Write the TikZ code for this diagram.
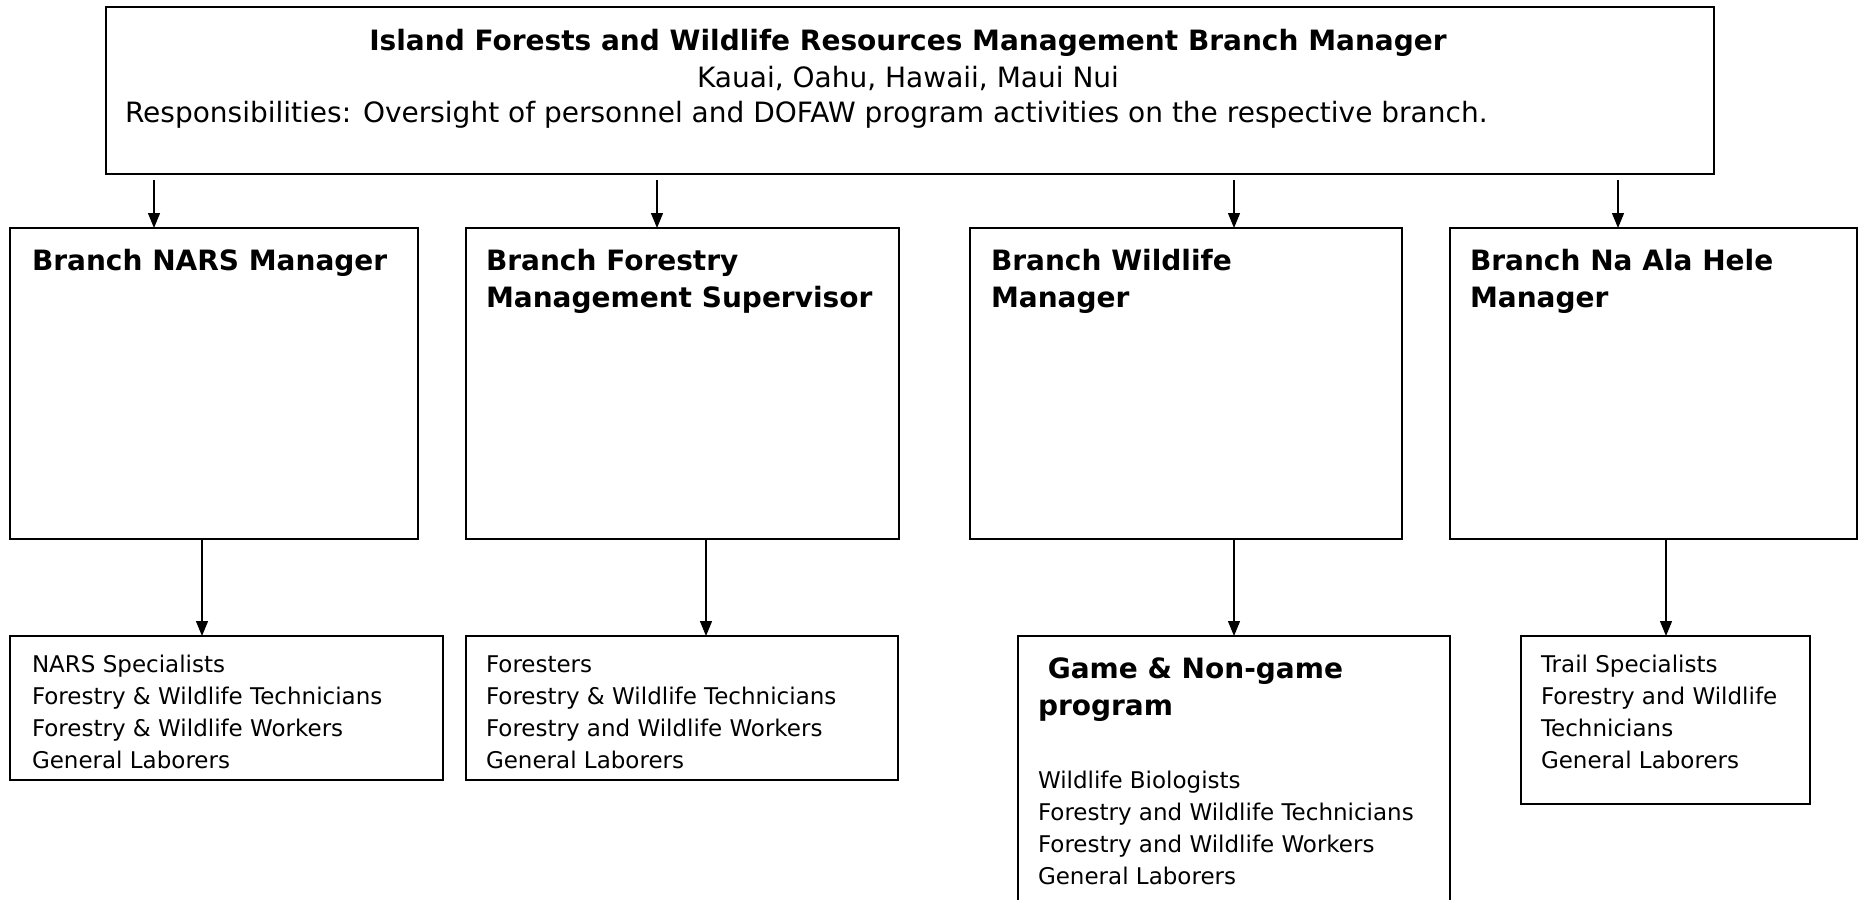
\documentclass[tikz,border=0pt]{standalone}
\usepackage{fontspec}
\setmainfont{DejaVu Sans}
\usetikzlibrary{arrows.meta}

% stack of lines whose baseline is the first line
\newcommand\linesbox[2]{\vtop{\baselineskip=#1\relax #2}}

\begin{document}
\begin{tikzpicture}[x=1pt, y=-1pt,
  box/.style={draw, line width=2pt, inner sep=0pt, outer sep=0pt, anchor=north west},
  bigtxt/.style={font=\fontsize{28}{37.5}\selectfont, inner sep=0pt, outer sep=0pt},
  bigbold/.style={font=\fontsize{28}{37.5}\selectfont\bfseries, inner sep=0pt, outer sep=0pt},
  smalltxt/.style={font=\fontsize{23}{31.8}\selectfont, inner sep=0pt, outer sep=0pt},
  arr/.style={-{Triangle[length=15pt,width=12pt]}, line width=1.3pt}]

\useasboundingbox (0,0) rectangle (1859,899);
\fill[white] (0,0) rectangle (1859,899);
\clip (0,0) rectangle (1859,899);

% boxes
\node[box, minimum width=1608pt, minimum height=167pt] (top)   at (106,7)   {};
\node[box, minimum width=408pt,  minimum height=311pt] (nars)  at (10,228)  {};
\node[box, minimum width=433pt,  minimum height=311pt] (fors)  at (466,228) {};
\node[box, minimum width=432pt,  minimum height=311pt] (wild)  at (970,228) {};
\node[box, minimum width=407pt,  minimum height=311pt] (nah)   at (1450,228) {};
\node[box, minimum width=433pt,  minimum height=144pt] (narsL) at (10,636)  {};
\node[box, minimum width=432pt,  minimum height=144pt] (forsL) at (466,636) {};
\node[box, minimum width=432pt,  minimum height=330pt] (game)  at (1018,636) {};
\node[box, minimum width=289pt,  minimum height=168pt] (trail) at (1521,636) {};

% top box text
\node[bigbold, anchor=base] (ttitle) at (908,50.7)
  {Island Forests and Wildlife Resources Management Branch Manager};
\node[bigtxt, anchor=base] (tisl) at (908,88) {Kauai, Oahu, Hawaii, Maui Nui};
\node[bigtxt, anchor=base west] (tresp) at (125,122.7)
  {Responsibilities: Oversight of personnel and DOFAW program activities on the respective branch.};

% branch headings
\node[bigbold, anchor=base west] (hnars) at (32,270) {Branch NARS Manager};
\node[bigbold, anchor=base west] (hfors) at (486,270)
  {\linesbox{37.5pt}{\hbox{Branch Forestry}\hbox{Management Supervisor}}};
\node[bigbold, anchor=base west] (hwild) at (991,270)
  {\linesbox{37.5pt}{\hbox{Branch Wildlife}\hbox{Manager}}};
\node[bigbold, anchor=base west] (hnah) at (1470,270)
  {\linesbox{37.5pt}{\hbox{Branch Na Ala Hele}\hbox{Manager}}};

% staff lists
\node[smalltxt, anchor=base west] (lnars) at (32,672.7)
  {\linesbox{31.8pt}{\hbox{NARS Specialists}\hbox{Forestry \& Wildlife Technicians}\hbox{Forestry \& Wildlife Workers}\hbox{General Laborers}}};
\node[smalltxt, anchor=base west] (lfors) at (486,672.7)
  {\linesbox{31.8pt}{\hbox{Foresters}\hbox{Forestry \& Wildlife Technicians}\hbox{Forestry and Wildlife Workers}\hbox{General Laborers}}};
\node[bigbold, anchor=base west] (hgame) at (1038,678)
  {\linesbox{37pt}{\hbox{\ Game \& Non-game}\hbox{program}}};
\node[smalltxt, anchor=base west] (lgame) at (1038,788)
  {\linesbox{32pt}{\hbox{Wildlife Biologists}\hbox{Forestry and Wildlife Technicians}\hbox{Forestry and Wildlife Workers}\hbox{General Laborers}}};
\node[smalltxt, anchor=base west] (ltrail) at (1541,672)
  {\linesbox{32pt}{\hbox{Trail Specialists}\hbox{Forestry and Wildlife}\hbox{Technicians}\hbox{General Laborers}}};

% connector columns
\coordinate (a1) at (154,0);
\coordinate (a2) at (657,0);
\coordinate (a3) at (1234,0);
\coordinate (a4) at (1618,0);
\coordinate (b1) at (202,0);
\coordinate (b2) at (706,0);
\coordinate (b3) at (1234,0);
\coordinate (b4) at (1666,0);

% manager to branches
\draw[arr] ([yshift=-6pt]top.south -| a1) -- (nars.north -| a1);
\draw[arr] ([yshift=-6pt]top.south -| a2) -- (fors.north -| a2);
\draw[arr] ([yshift=-6pt]top.south -| a3) -- (wild.north -| a3);
\draw[arr] ([yshift=-6pt]top.south -| a4) -- (nah.north -| a4);

% branches to staff
\draw[arr] (nars.south -| b1) -- (narsL.north -| b1);
\draw[arr] (fors.south -| b2) -- (forsL.north -| b2);
\draw[arr] (wild.south -| b3) -- (game.north -| b3);
\draw[arr] (nah.south -| b4) -- (trail.north -| b4);
\end{tikzpicture}
\end{document}
